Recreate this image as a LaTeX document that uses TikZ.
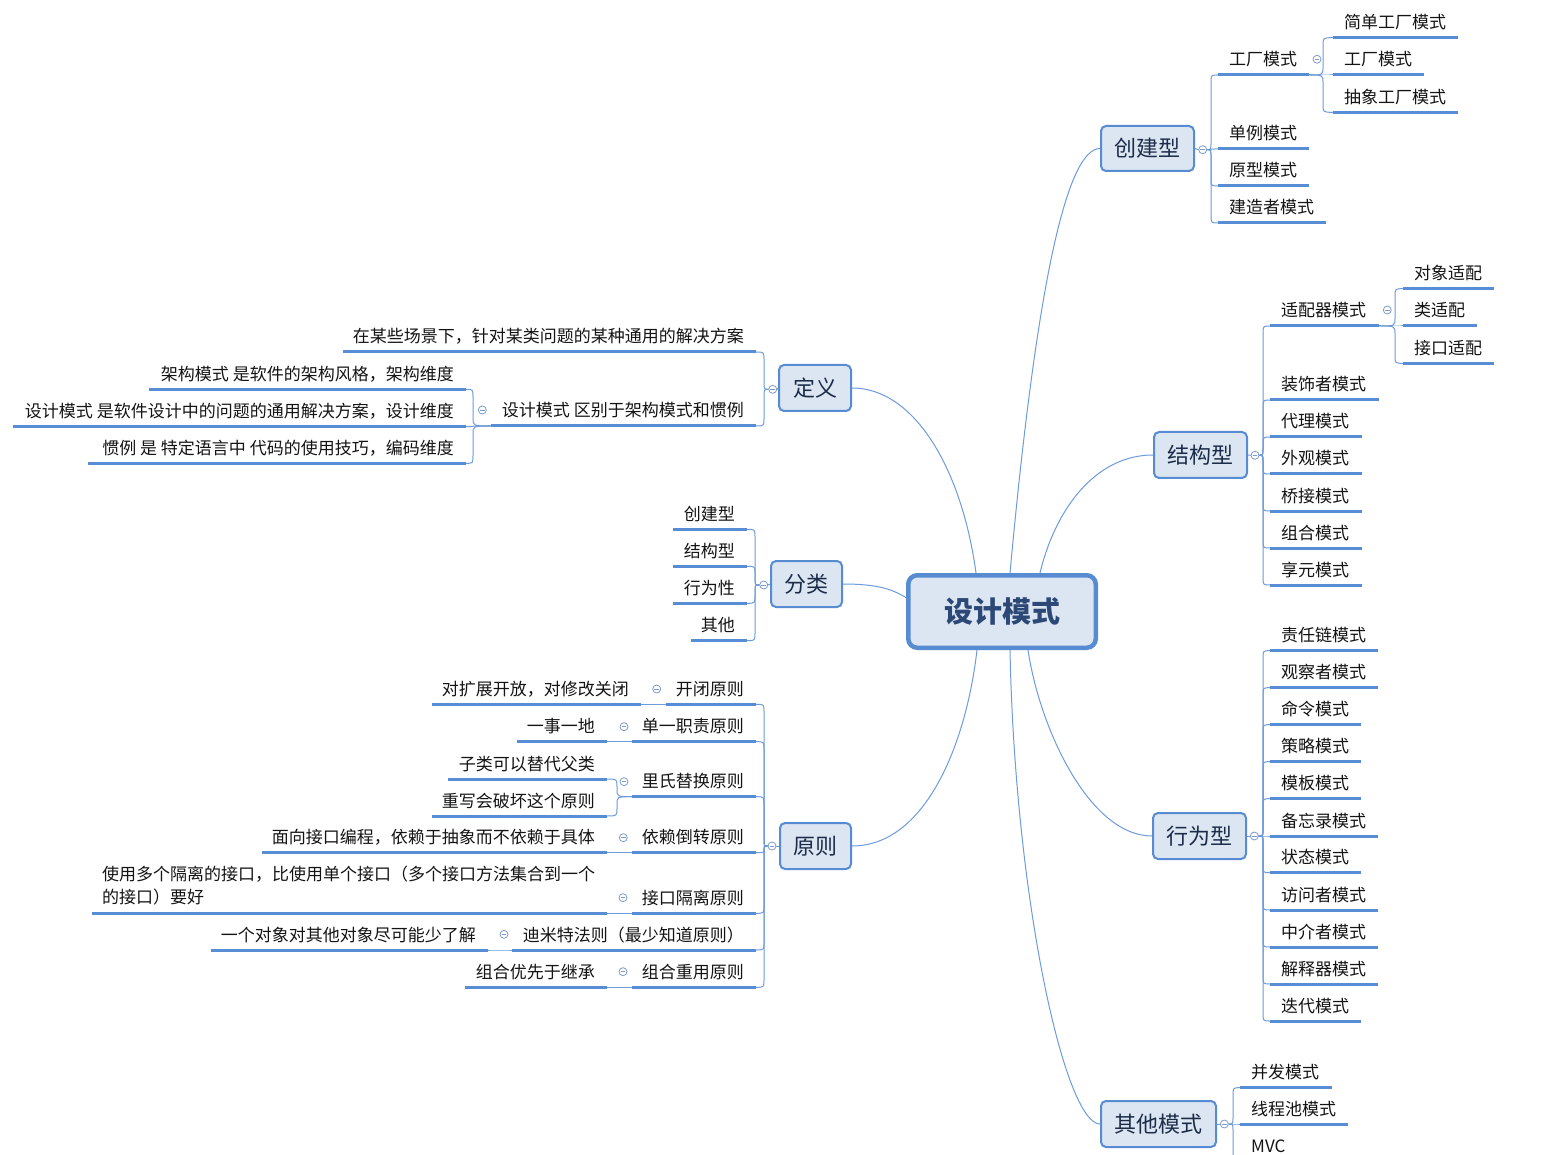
\documentclass[tikz,border=0pt]{standalone}
\usepackage{fontspec}
\setmainfont{Noto Sans CJK SC}
\usetikzlibrary{calc}
\definecolor{ul}{RGB}{86,141,212}
\definecolor{bx}{RGB}{88,140,210}
\definecolor{bf}{RGB}{220,230,242}
\definecolor{cn}{RGB}{110,155,220}
\definecolor{lt}{RGB}{28,44,72}
\definecolor{ct}{RGB}{44,72,118}
\definecolor{tx}{RGB}{20,20,20}
\definecolor{cb}{RGB}{125,155,205}
\tikzset{
 uline/.style={draw=ul, line width=3pt},
 conn/.style={draw=cn, line width=1pt},
 leaf/.style={inner sep=0pt, text=tx, font=\fontsize{17}{23}\selectfont},
 lone/.style={draw=bx, fill=bf, line width=2pt, rounded corners=5pt, inner sep=0pt, text=lt, font=\fontsize{22}{26}\selectfont},
 ctrbox/.style={draw=bx, fill=bf, line width=4.5pt, rounded corners=9pt, inner sep=0pt, text=ct, font=\fontsize{29}{34}\selectfont\bfseries},
 cbtn/.style={circle, draw=cb, line width=0.8pt, fill=white, minimum size=8pt, inner sep=0pt,
   path picture={\draw[cb, line width=0.8pt] ([xshift=-2.3pt]path picture bounding box.center) -- ([xshift=2.3pt]path picture bounding box.center);}}
}
% right-side child: name, x1, x2, y, text
\newcommand\mmR[5]{%
 \coordinate (#1a) at (#2,#4); \coordinate (#1b) at (#3,#4);
 \draw[uline] (#1a) -- (#1b);
 \node[leaf, anchor=base west] (#1) at (#2+11,#4-9) {#5};}
% left-side child
\newcommand\mmL[5]{%
 \coordinate (#1a) at (#2,#4); \coordinate (#1b) at (#3,#4);
 \draw[uline] (#1a) -- (#1b);
 \node[leaf, anchor=base east] (#1) at (#3-12,#4-9) {#5};}
% bracket connector: from, to, x of vertical
\newcommand\mmB[3]{%
 \draw[conn] let \p1=(#1), \p2=(#2),
   \n1={(\y2-\y1)/max(abs(\y2-\y1),0.01)},
   \n2={min(8,abs(\y2-\y1)/2)} in
   (\p1) .. controls (#3pt,\y1) .. (#3pt,{\y1+\n1*\n2}) -- (#3pt,{\y2-\n1*\n2}) .. controls (#3pt,\y2) .. (\p2);}
\begin{document}
\begin{tikzpicture}[x=1pt,y=-1pt]
\useasboundingbox (0,0) rectangle (1559,1155);
\clip (0,0) rectangle (1559,1155);
\fill[white] (0,0) rectangle (1559,1155);

% ---------- main boxes ----------
\node[ctrbox, minimum width=187.5pt, minimum height=72.5pt] (ctr) at (1002,611.5) {设计模式};
\node[lone, minimum width=93pt, minimum height=45pt] (cj) at (1147.5,148.5) {创建型};
\node[lone, minimum width=93pt, minimum height=46pt] (jg) at (1200.5,455) {结构型};
\node[lone, minimum width=93pt, minimum height=46pt] (xw) at (1199.5,836) {行为型};
\node[lone, minimum width=115pt, minimum height=46pt] (qt) at (1158.5,1124) {其他模式};
\node[lone, minimum width=72pt, minimum height=46pt] (dy) at (815,388) {定义};
\node[lone, minimum width=71pt, minimum height=46pt] (fl) at (806.5,584) {分类};
\node[lone, minimum width=71pt, minimum height=46pt] (yz) at (815.5,846) {原则};

% ---------- connectors from centre ----------
\draw[conn] (dy.east) .. controls (915,388) and (962,470) .. ($(ctr.north)+(-26,0)$);
\draw[conn] (cj.west) .. controls (1065,148.5) and (1035,300) .. ($(ctr.north)+(8,0)$);
\draw[conn] (jg.west) .. controls (1095,455) and (1055,510) .. ($(ctr.north)+(38,0)$);
\draw[conn] (fl.east) .. controls (880,584) and (893,590) .. ($(ctr.west)+(0,-14)$);
\draw[conn] (yz.east) .. controls (925,846) and (966,745) .. ($(ctr.south)+(-25,0)$);
\draw[conn] (xw.west) .. controls (1090,836) and (1040,730) .. ($(ctr.south)+(26,0)$);
\draw[conn] (qt.west) .. controls (1065,1124) and (1015,900) .. ($(ctr.south)+(8,0)$);

% ---------- 创建型 ----------
\node[cbtn] (cjc) at (1202.7,149.7) {};
\draw[conn] (cj.east) -- (cjc.west);
\mmR{c1}{1218}{1309}{75}{工厂模式}
\mmR{c2}{1218}{1309}{149}{单例模式}
\mmR{c3}{1218}{1309}{186}{原型模式}
\mmR{c4}{1218}{1326}{223}{建造者模式}
\mmB{cjc.east}{c1a}{1211}
\mmB{cjc.east}{c2a}{1211}
\mmB{cjc.east}{c3a}{1211}
\mmB{cjc.east}{c4a}{1211}
\node[cbtn] (c1c) at (1317,59.3) {};
\mmR{c11}{1333}{1458}{37.7}{简单工厂模式}
\mmR{c12}{1333}{1424}{75}{工厂模式}
\mmR{c13}{1333}{1458}{112.3}{抽象工厂模式}
\mmB{c1b}{c11a}{1323}
\mmB{c1b}{c12a}{1323}
\mmB{c1b}{c13a}{1323}

% ---------- 结构型 ----------
\node[cbtn] (jgc) at (1255,455.3) {};
\draw[conn] (jg.east) -- (jgc.west);
\mmR{s1}{1270}{1379}{326}{适配器模式}
\mmR{s2}{1270}{1379}{400}{装饰者模式}
\mmR{s3}{1270}{1362}{437}{代理模式}
\mmR{s4}{1270}{1362}{474}{外观模式}
\mmR{s5}{1270}{1362}{511}{桥接模式}
\mmR{s6}{1270}{1362}{548}{组合模式}
\mmR{s7}{1270}{1362}{585}{享元模式}
\mmB{jgc.east}{s1a}{1263}
\mmB{jgc.east}{s2a}{1263}
\mmB{jgc.east}{s3a}{1263}
\mmB{jgc.east}{s4a}{1263}
\mmB{jgc.east}{s5a}{1263}
\mmB{jgc.east}{s6a}{1263}
\mmB{jgc.east}{s7a}{1263}
\node[cbtn] (s1c) at (1387.3,310) {};
\mmR{s11}{1403}{1494}{288.7}{对象适配}
\mmR{s12}{1403}{1477}{326}{类适配}
\mmR{s13}{1403}{1494}{363.3}{接口适配}
\mmB{s1b}{s11a}{1395}
\mmB{s1b}{s12a}{1395}
\mmB{s1b}{s13a}{1395}

% ---------- 行为型 ----------
\node[cbtn] (xwc) at (1254.3,836) {};
\draw[conn] (xw.east) -- (xwc.west);
\mmR{b1}{1270}{1378}{650.7}{责任链模式}
\mmR{b2}{1270}{1378}{687.7}{观察者模式}
\mmR{b3}{1270}{1361}{724.7}{命令模式}
\mmR{b4}{1270}{1361}{761.7}{策略模式}
\mmR{b5}{1270}{1361}{798.7}{模板模式}
\mmR{b6}{1270}{1378}{836}{备忘录模式}
\mmR{b7}{1270}{1361}{872.7}{状态模式}
\mmR{b8}{1270}{1378}{910}{访问者模式}
\mmR{b9}{1270}{1378}{947}{中介者模式}
\mmR{b10}{1270}{1378}{984}{解释器模式}
\mmR{b11}{1270}{1361}{1021}{迭代模式}
\mmB{xwc.east}{b1a}{1263}
\mmB{xwc.east}{b2a}{1263}
\mmB{xwc.east}{b3a}{1263}
\mmB{xwc.east}{b4a}{1263}
\mmB{xwc.east}{b5a}{1263}
\mmB{xwc.east}{b6a}{1263}
\mmB{xwc.east}{b7a}{1263}
\mmB{xwc.east}{b8a}{1263}
\mmB{xwc.east}{b9a}{1263}
\mmB{xwc.east}{b10a}{1263}
\mmB{xwc.east}{b11a}{1263}

% ---------- 其他模式 ----------
\node[cbtn] (qtc) at (1224.3,1124) {};
\draw[conn] (qt.east) -- (qtc.west);
\mmR{o1}{1240}{1332}{1087.7}{并发模式}
\mmR{o2}{1240}{1348}{1124}{线程池模式}
\mmR{o3}{1240}{1320}{1161}{MVC}
\mmB{qtc.east}{o1a}{1233}
\mmB{qtc.east}{o2a}{1233}
\mmB{qtc.east}{o3a}{1233}

% ---------- 定义 ----------
\node[cbtn] (dyc) at (772.7,389.3) {};
\draw[conn] (dy.west) -- (dyc.east);
\mmL{d1}{343}{756}{352}{在某些场景下，针对某类问题的某种通用的解决方案}
\mmL{d2}{491}{756}{426}{设计模式 区别于架构模式和惯例}
\mmB{dyc.west}{d1b}{764}
\mmB{dyc.west}{d2b}{764}
\node[cbtn] (d2c) at (482.3,410) {};
\mmL{d21}{149}{466}{389.3}{架构模式 是软件的架构风格，架构维度}
\mmL{d22}{13}{466}{426.7}{设计模式 是软件设计中的问题的通用解决方案，设计维度}
\mmL{d23}{88}{466}{463.3}{惯例 是 特定语言中 代码的使用技巧，编码维度}
\mmB{d2a}{d21b}{473}
\mmB{d2a}{d22b}{473}
\mmB{d2a}{d23b}{473}

% ---------- 分类 ----------
\node[cbtn] (flc) at (763.7,585) {};
\draw[conn] (fl.west) -- (flc.east);
\mmL{f1}{673}{747}{529.3}{创建型}
\mmL{f2}{673}{747}{566.3}{结构型}
\mmL{f3}{673}{747}{603.3}{行为性}
\mmL{f4}{691}{747}{640.7}{其他}
\mmB{flc.west}{f1b}{755}
\mmB{flc.west}{f2b}{755}
\mmB{flc.west}{f3b}{755}
\mmB{flc.west}{f4b}{755}

% ---------- 原则 ----------
\node[cbtn] (yzc) at (772,846) {};
\draw[conn] (yz.west) -- (yzc.east);
\mmL{p1}{666}{756}{704.3}{开闭原则}
\mmL{p2}{632}{756}{741.7}{单一职责原则}
\mmL{p3}{632}{756}{796.7}{里氏替换原则}
\mmL{p4}{632}{756}{852.7}{依赖倒转原则}
\mmL{p5}{632}{756}{913.3}{接口隔离原则}
\mmL{p6}{512}{756}{950}{迪米特法则（最少知道原则）}
\mmL{p7}{632}{756}{987.3}{组合重用原则}
\mmB{yzc.west}{p1b}{764}
\mmB{yzc.west}{p2b}{764}
\mmB{yzc.west}{p3b}{764}
\mmB{yzc.west}{p4b}{764}
\mmB{yzc.west}{p5b}{764}
\mmB{yzc.west}{p6b}{764}
\mmB{yzc.west}{p7b}{764}

\node[cbtn] (p1c) at (656.7,689) {};
\mmL{p11}{432}{641}{704.3}{对扩展开放，对修改关闭}
\mmB{p1a}{p11b}{653}

\node[cbtn] (p2c) at (624,726.7) {};
\mmL{p21}{517}{607}{741.7}{一事一地}
\mmB{p2a}{p21b}{620}

\node[cbtn] (p3c) at (624,781.7) {};
\mmL{p31}{448}{607}{779}{子类可以替代父类}
\mmL{p32}{432}{607}{816}{重写会破坏这个原则}
\mmB{p3a}{p31b}{617}
\mmB{p3a}{p32b}{617}

\node[cbtn] (p4c) at (623.3,837.7) {};
\mmL{p41}{262}{607}{852.7}{面向接口编程，依赖于抽象而不依赖于具体}
\mmB{p4a}{p41b}{620}

\node[cbtn] (p5c) at (623,897.7) {};
\coordinate (p51a) at (92,913.3); \coordinate (p51b) at (607,913.3);
\draw[uline] (p51a) -- (p51b);
\node[leaf, anchor=west, align=left] (p51) at (102,885.5) {使用多个隔离的接口，比使用单个接口（多个接口方法集合到一个\\的接口）要好};
\mmB{p5a}{p51b}{620}

\node[cbtn] (p6c) at (504,934.3) {};
\mmL{p61}{211}{488}{950}{一个对象对其他对象尽可能少了解}
\mmB{p6a}{p61b}{500}

\node[cbtn] (p7c) at (623,971.7) {};
\mmL{p71}{465}{607}{987.3}{组合优先于继承}
\mmB{p7a}{p71b}{620}
\end{tikzpicture}
\end{document}
